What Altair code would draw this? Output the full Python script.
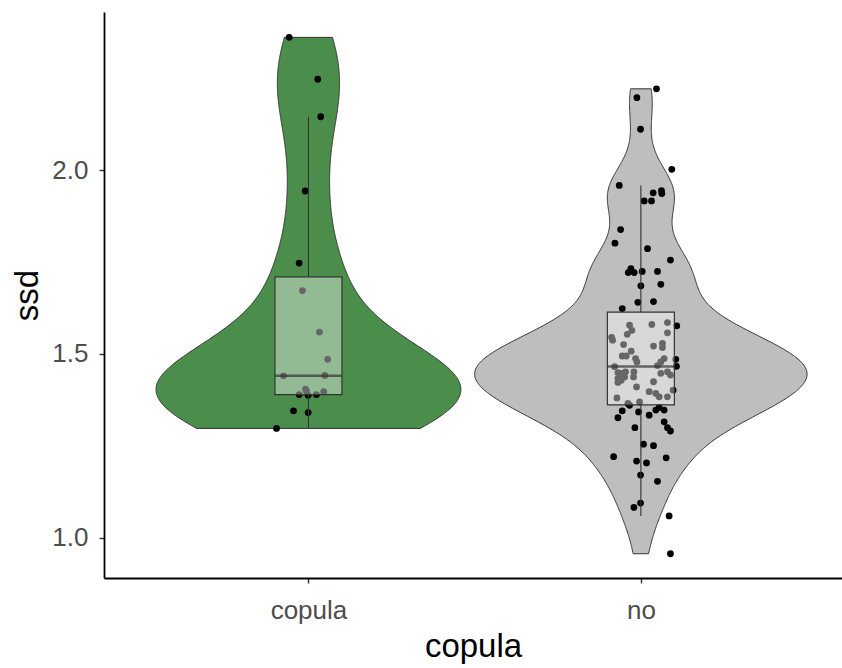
import numpy as np
import pandas as pd
import altair as alt

# Categories on the x axis
groups = ["copula", "no"]

# ssd values and horizontal jitter (in category units) for the "copula" group
copula_ssd = [2.361, 2.247, 2.145, 1.943, 1.747, 1.672, 1.559, 1.485, 1.440, 1.441,
              1.399, 1.397, 1.389, 1.387, 1.389, 1.345, 1.340, 1.297, 1.404]
copula_jitter = [-0.058, 0.028, 0.037, -0.010, -0.028, -0.018, 0.033, 0.058, -0.075, 0.049,
                 -0.006, 0.046, -0.028, -0.001, 0.024, -0.045, -0.001, -0.096, -0.009]

# ssd values and horizontal jitter for the "no" group
no_ssd = [2.221, 2.197, 2.111, 2.002, 1.958, 1.938, 1.944, 1.936, 1.916, 1.916,
          1.838, 1.801, 1.786, 1.755, 1.732, 1.721, 1.721, 1.724, 1.724, 1.685,
          1.689, 1.640, 1.642, 1.623, 1.578, 1.564, 1.553, 1.580, 1.585, 1.557,
          1.576, 1.545, 1.537, 1.525, 1.521, 1.528, 1.517, 1.507, 1.494, 1.494,
          1.487, 1.478, 1.487, 1.478, 1.485, 1.465, 1.449, 1.447, 1.451, 1.437,
          1.451, 1.437, 1.433, 1.428, 1.468, 1.447, 1.451, 1.442, 1.466, 1.424,
          1.422, 1.410, 1.397, 1.392, 1.383, 1.383, 1.401, 1.380, 1.365, 1.369,
          1.360, 1.345, 1.326, 1.342, 1.333, 1.347, 1.354, 1.347, 1.315, 1.299,
          1.290, 1.299, 1.254, 1.250, 1.220, 1.208, 1.203, 1.217, 1.170, 1.153,
          1.094, 1.082, 1.059, 0.956]
no_jitter = [0.047, -0.012, -0.001, 0.093, -0.065, 0.037, 0.062, 0.063, 0.010, 0.032,
             -0.061, -0.078, 0.020, 0.089, -0.030, -0.038, -0.020, 0.004, 0.050, 0.000,
             0.060, -0.009, 0.038, -0.056, -0.034, -0.027, -0.041, 0.033, 0.080, 0.080,
             0.108, -0.088, -0.085, -0.052, 0.038, 0.065, 0.065, -0.029, -0.056, -0.044,
             -0.016, -0.012, 0.070, 0.060, 0.105, -0.079, -0.069, -0.059, -0.046, -0.049,
             -0.021, -0.022, -0.069, -0.059, 0.050, 0.060, 0.080, 0.089, 0.107, 0.038,
             -0.069, -0.013, 0.025, 0.045, 0.055, 0.080, 0.097, -0.072, -0.039, -0.004,
             -0.034, -0.056, -0.069, -0.007, 0.025, 0.045, 0.055, 0.070, 0.070, 0.080,
             0.089, -0.018, 0.008, 0.038, -0.082, -0.013, 0.017, 0.076, -0.001, 0.050,
             -0.001, -0.021, 0.085, 0.089]

series = {"copula": (copula_ssd, copula_jitter), "no": (no_ssd, no_jitter)}


def bw_nrd0(values):
    """Silverman's rule of thumb, as used by R's bw.nrd0."""
    v = np.asarray(values, dtype=float)
    sd = v.std(ddof=1)
    q75, q25 = np.percentile(v, [75, 25])
    spread = min(sd, (q75 - q25) / 1.34)
    return 0.9 * spread * len(v) ** -0.2


def density_frame(name, pos, values, n=512):
    """Gaussian kernel density trimmed to the observed range."""
    v = np.asarray(values, dtype=float)
    bw = bw_nrd0(v)
    grid = np.linspace(v.min(), v.max(), n)
    dens = np.exp(-0.5 * ((grid[:, None] - v[None, :]) / bw) ** 2).sum(axis=1)
    dens /= len(v) * bw * np.sqrt(2 * np.pi)
    return pd.DataFrame({"copula": name, "pos": pos, "ssd": grid, "density": dens})


violin_df = pd.concat(
    [density_frame(g, i + 1, series[g][0]) for i, g in enumerate(groups)],
    ignore_index=True,
)
points_df = pd.concat(
    [pd.DataFrame({"copula": g, "pos": i + 1, "ssd": series[g][0], "jitter": series[g][1]})
     for i, g in enumerate(groups)],
    ignore_index=True,
)

x_scale = alt.Scale(domain=[0.4, 2.59], nice=False, zero=False)
y_scale = alt.Scale(domain=[0.89, 2.43], nice=False, zero=False)
fill_scale = alt.Scale(domain=groups, range=["#4b8e4b", "#bebebe"])

x_axis = alt.Axis(
    values=[1, 2],
    labelExpr="datum.value == 1 ? 'copula' : 'no'",
    labelBaseline="alphabetic",
    labelPadding=35,
    titleY=78,
    titleBaseline="alphabetic",
)
y_axis = alt.Axis(
    values=[1.0, 1.5, 2.0],
    format=".1f",
    labelPadding=11,
    titleX=-67,
    titleBaseline="alphabetic",
)

violin = (
    alt.Chart(violin_df)
    .transform_joinaggregate(peak="max(density)")
    .transform_calculate(
        left="datum.pos - 0.5 * datum.density / datum.peak",
        right="datum.pos + 0.5 * datum.density / datum.peak",
    )
    .mark_area(orient="horizontal", stroke="#333333", strokeWidth=1, opacity=1)
    .encode(
        y=alt.Y("ssd:Q", scale=y_scale, axis=y_axis, title="ssd"),
        x=alt.X("left:Q", scale=x_scale, axis=x_axis, title="copula"),
        x2="right:Q",
        color=alt.Color("copula:N", scale=fill_scale, legend=None),
    )
)

points = (
    alt.Chart(points_df)
    .transform_calculate(xj="datum.pos + datum.jitter")
    .mark_circle(size=46, color="black", opacity=1)
    .encode(x=alt.X("xj:Q", scale=x_scale), y=alt.Y("ssd:Q", scale=y_scale))
)

box = (
    alt.Chart(points_df)
    .mark_boxplot(
        extent=1.5,
        size=67,
        orient="vertical",
        outliers=False,
        ticks=False,
        box={"fill": "white", "fillOpacity": 0.4, "stroke": "#333333", "strokeWidth": 1.2},
        median={"color": "#333333", "thickness": 2.5},
        rule={"color": "#333333", "strokeWidth": 1.1},
    )
    .encode(x=alt.X("pos:Q", scale=x_scale), y=alt.Y("ssd:Q", scale=y_scale))
)

chart = (
    alt.layer(violin, points, box)
    .properties(
        width=738,
        height=566,
        padding={"left": 104, "top": 12, "right": 0, "bottom": 90},
        autosize=alt.AutoSizeParams(type="none"),
        background="white",
    )
    .configure_view(stroke=None)
    .configure_axis(
        grid=False,
        domainColor="black",
        domainWidth=1.8,
        tickColor="#333333",
        tickWidth=1.4,
        tickSize=5,
        labelColor="#4d4d4d",
        labelFont="Liberation Sans",
        labelFontSize=26,
        titleFont="Liberation Sans",
        titleFontSize=33,
        titleFontWeight="normal",
        titleColor="black",
    )
)

chart.save("out.html", embed_options={"renderer": "svg", "actions": False})
